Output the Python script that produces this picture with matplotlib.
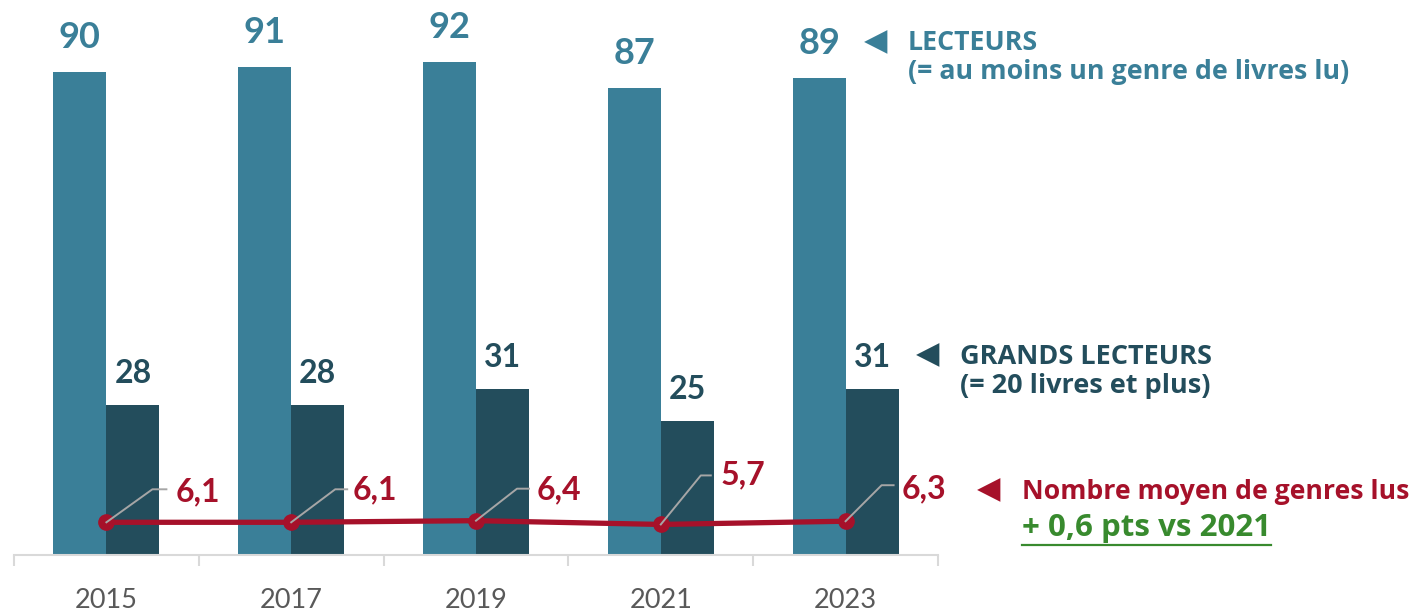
import matplotlib
matplotlib.use("Agg")
import matplotlib.pyplot as plt
import matplotlib.transforms as mtransforms
from matplotlib.lines import Line2D
import numpy as np

# ---- data ----
years = ["2015", "2017", "2019", "2021", "2023"]
lecteurs = [90, 91, 92, 87, 89]
grands_lecteurs = [28, 28, 31, 25, 31]
genres_moyens = [6.1, 6.1, 6.4, 5.7, 6.3]
genres_labels = ["6,1", "6,1", "6,4", "5,7", "6,3"]

# ---- styles ----
C_LIGHT = "#3A7F98"
C_DARK = "#234D5C"
C_RED = "#A6112A"
C_GREEN = "#388A2E"
C_TICK = "#595959"
C_AXIS = "#D9D9D9"
C_LEADER = "#A6A6A6"
FONT = ["Lato", "DejaVu Sans"]
FONT2 = ["Open Sans", "DejaVu Sans"]

W, H, DPI = 1414, 611, 100
fig = plt.figure(figsize=(W / DPI, H / DPI), dpi=DPI)
ax = fig.add_axes([14 / W, 56 / H, 924 / W, 555 / H])

x = np.arange(len(years))
bw = 0.287
b1 = ax.bar(x - bw / 2, lecteurs, bw, color=C_LIGHT, zorder=2)
b2 = ax.bar(x + bw / 2, grands_lecteurs, bw, color=C_DARK, zorder=2)
ax.plot(x, genres_moyens, color=C_RED, lw=3.8, marker="o", ms=11,
        solid_capstyle="round", zorder=4)

ax.set_xlim(-0.5, len(years) - 0.5)
ax.set_ylim(0, 103.5)

# bar labels
for rect, v in zip(b1, lecteurs):
    ax.annotate(str(v), (rect.get_x() + rect.get_width() / 2, rect.get_height()),
                xytext=(0, 24), textcoords="offset pixels", ha="center", va="baseline",
                fontsize=26, fontweight="bold", color=C_LIGHT, family=FONT)
for rect, v in zip(b2, grands_lecteurs):
    ax.annotate(str(v), (rect.get_x() + rect.get_width() / 2, rect.get_height()),
                xytext=(0, 22), textcoords="offset pixels", ha="center", va="baseline",
                fontsize=23, fontweight="bold", color=C_DARK, family=FONT)

# line labels with leader lines (pixel offsets)
bends = [(46, 33), (44, 33), (41, 32), (40, 49), (36, 36)]
ends = [(60, 33), (56, 33), (53, 32), (50, 49), (48, 36)]
txt_off = [(69, 30), (61, 32), (61, 31), (60, 50), (56, 32)]
for xi, yi, lab, bnd, end, to in zip(x, genres_moyens, genres_labels, bends, ends, txt_off):
    tr = mtransforms.IdentityTransform() + mtransforms.ScaledTranslation(xi, yi, ax.transData)
    ax.add_line(Line2D([0, bnd[0], end[0]], [0, bnd[1], end[1]], transform=tr,
                       color=C_LEADER, lw=1.4, zorder=5, clip_on=False))
    ax.annotate(lab, (xi, yi), xytext=to, textcoords="offset pixels",
                ha="left", va="center", fontsize=23, fontweight="bold",
                color=C_RED, family=FONT, zorder=6)

# axes styling
for s in ["top", "right", "left"]:
    ax.spines[s].set_visible(False)
ax.spines["bottom"].set_color(C_AXIS)
ax.spines["bottom"].set_linewidth(1.5)
ax.set_yticks([])
ax.set_xticks(x)
ax.set_xticklabels(years)
ax.tick_params(axis="x", which="major", length=0, pad=24, labelsize=19.5, labelcolor=C_TICK)
for lbl in ax.get_xticklabels():
    lbl.set_family(FONT)
ax.set_xticks(np.arange(-0.5, len(years)), minor=True)
ax.tick_params(axis="x", which="minor", length=8, width=1.5, color=C_AXIS)


def fx(px):
    return px / W


def fy(py):
    return 1 - py / H


# legend-like annotations
tri_kw = dict(ha="center", va="center", fontsize=22, family=["DejaVu Sans"])
txt_kw = dict(fontweight="bold", family=FONT2, ha="left", va="center")
fig.text(fx(876), fy(42), "◀", color=C_LIGHT, **tri_kw)
fig.text(fx(908), fy(43), "LECTEURS", color=C_LIGHT, fontsize=19.3, **txt_kw)
fig.text(fx(908), fy(72), "(= au moins un genre de livres lu)", color=C_LIGHT,
         fontsize=19.3, **txt_kw)

fig.text(fx(928), fy(355), "◀", color=C_DARK, **tri_kw)
fig.text(fx(960), fy(357), "GRANDS LECTEURS", color=C_DARK, fontsize=19.5, **txt_kw)
fig.text(fx(960), fy(386), "(= 20 livres et plus)", color=C_DARK, fontsize=19.5, **txt_kw)

fig.text(fx(989), fy(490), "◀", color=C_RED, **tri_kw)
fig.text(fx(1022), fy(492), "Nombre moyen de genres lus", color=C_RED, fontsize=19.2, **txt_kw)
t = fig.text(fx(1022), fy(528), "+ 0,6 pts vs 2021", color=C_GREEN, fontsize=22.5, **txt_kw)
fig.canvas.draw()
bb = t.get_window_extent()
fig.add_artist(Line2D([bb.x0 / W, bb.x1 / W], [fy(545), fy(545)], transform=fig.transFigure,
                      color=C_GREEN, lw=1.6))

fig.savefig("out.png", dpi=DPI)
